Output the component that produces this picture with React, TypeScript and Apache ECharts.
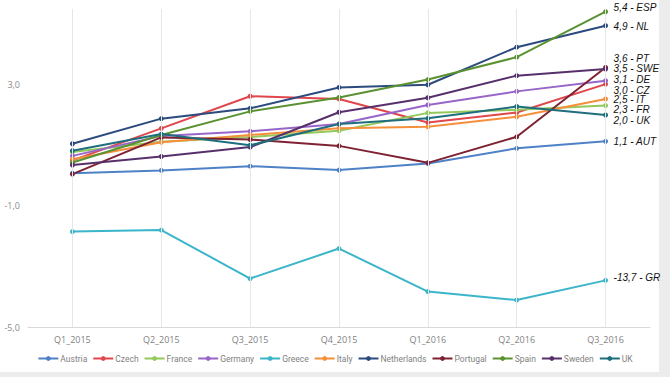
import React, { useEffect, useRef } from "react";
import * as echarts from "echarts";

const categories = ["Q1_2015", "Q2_2015", "Q3_2015", "Q4_2015", "Q1_2016", "Q2_2016", "Q3_2016"];

const austria = [0.08, 0.17, 0.31, 0.18, 0.4, 0.9, 1.13];
const czech = [0.5, 1.56, 2.62, 2.53, 1.75, 2.08, 3.02];
const france = [0.78, 1.12, 1.27, 1.48, 2.07, 2.17, 2.31];
const germany = [0.65, 1.31, 1.46, 1.7, 2.33, 2.78, 3.13];
const greece = [-1.85, -1.8, -3.4, -2.41, -3.83, -4.11, -3.46];
const italy = [0.54, 1.1, 1.34, 1.56, 1.61, 1.94, 2.53];
const netherlands = [1.05, 1.88, 2.22, 2.91, 3.0, 4.24, 4.95];
const portugal = [0.05, 1.26, 1.19, 0.98, 0.42, 1.28, 3.57];
const spain = [0.43, 1.34, 2.12, 2.58, 3.17, 3.91, 5.41];
const sweden = [0.35, 0.63, 0.94, 2.09, 2.57, 3.3, 3.52];
const uk = [0.82, 1.37, 1.0, 1.7, 1.89, 2.28, 2.0];

const seriesNames = ["Austria", "Czech", "France", "Germany", "Greece", "Italy", "Netherlands", "Portugal", "Spain", "Sweden", "UK"];
const seriesValues = [austria, czech, france, germany, greece, italy, netherlands, portugal, spain, sweden, uk];
const endLabels = ["1,1 - AUT", "3,0 - CZ", "2,3 - FR", "3,1 - DE", "-13,7 - GR", "2,5 - IT", "4,9 - NL", "3,6 - PT", "5,4 - ESP", "3,5 - SWE", "2,0 - UK"];

const colors = ["#4f81c7", "#e0474c", "#92c95a", "#9865c9", "#3bb5c9", "#f58f3b", "#2b4a7e", "#7e2233", "#5a9232", "#57306b", "#1e6e7e"];
const labelOffsets: number[][] = [
  [0, 0], [0, 6], [0, 4], [0, -1], [0, -3], [0, 1], [0, 1], [0, -9], [0, -4], [0, 0], [0, 5],
];

export default function App() {
  const ref = useRef<HTMLDivElement>(null);
  useEffect(() => {
    if (!ref.current) return;
    const chart = echarts.init(ref.current, undefined, { renderer: "svg" });
    const lineSeries = seriesNames.map((name, i) => ({
      name,
      type: "line",
      data: seriesValues[i],
      color: colors[i],
      symbol: "circle",
      symbolSize: 5,
      z: 3,
      lineStyle: { width: 2 },
      endLabel: {
        show: true,
        formatter: endLabels[i],
        offset: labelOffsets[i],
        distance: 8,
        color: "#111",
        fontStyle: "italic",
        fontSize: 10,
        lineHeight: 9,
        fontFamily: "Liberation Sans",
      },
    }));
    chart.setOption({
      animation: false,
      backgroundColor: "#ffffff",
      grid: { left: 28, right: 20, top: 9, bottom: 50 },
      xAxis: {
        type: "category",
        data: categories,
        boundaryGap: true,
        axisLine: { show: true, onZero: false, lineStyle: { color: "#d9d9d9", width: 1 } },
        axisTick: { show: false },
        axisLabel: { color: "#7f7f7f", fontSize: 9, fontFamily: "Open Sans", margin: 8 },
        splitLine: { show: false },
      },
      yAxis: {
        type: "value",
        min: -5,
        max: 5.5,
        interval: 4,
        axisLine: { show: false },
        axisTick: { show: false },
        splitLine: { show: false },
        axisLabel: {
          color: "#8c8c8c",
          fontSize: 9,
          fontFamily: "Open Sans",
          margin: 8,
          formatter: (v: number) => (Math.abs(((v + 5) % 4)) < 1e-9 ? v.toFixed(1).replace(".", ",") : ""),
        },
      },
      legend: {
        data: seriesNames,
        top: 354,
        left: "center",
        padding: 0,
        itemWidth: 20,
        itemHeight: 6,
        itemGap: 5,
        textStyle: { color: "#7f7f7f", fontSize: 8.5, fontFamily: "Roboto", padding: [0, 0, 0, -3] },
      },
      graphic: [
        { type: "rect", right: 0, top: 0, shape: { width: 11, height: 377 }, style: { fill: "#ececec" }, silent: true },
        { type: "rect", left: 0, bottom: 0, shape: { width: 670, height: 5 }, style: { fill: "#ececec" }, silent: true },
      ],
      series: [
        {
          name: "grid",
          type: "line",
          data: categories.map(() => null),
          z: 1,
          silent: true,
          markLine: {
            silent: true,
            symbol: ["none", "none"],
            label: { show: false },
            lineStyle: { color: "#e6e6e6", type: "solid", width: 1 },
            data: categories.map((c) => ({ xAxis: c })),
          },
        },
        ...lineSeries,
      ],
    });
    return () => chart.dispose();
  }, []);
  return <div ref={ref} style={{ position: "absolute", left: 0, top: 0, width: 670, height: 377 }} />;
}
